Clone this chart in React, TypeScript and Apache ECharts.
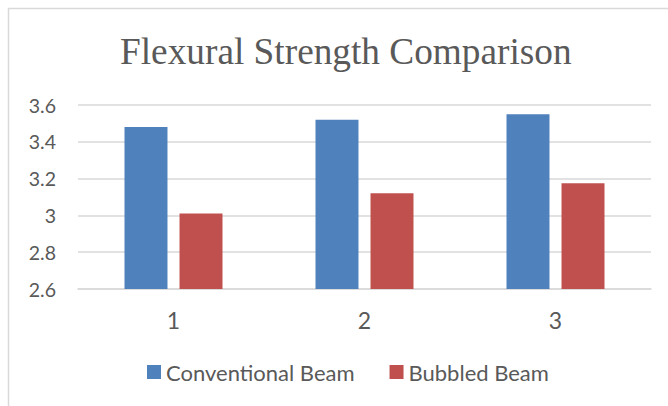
import React, { useEffect, useRef } from "react";
import * as echarts from "echarts";

const categories = ["1", "2", "3"];
const conventional = [3.48, 3.52, 3.55];
const bubbled = [3.01, 3.12, 3.175];
const seriesNames = ["Conventional Beam", "Bubbled Beam"];
const titleText = "Flexural Strength Comparison";

export default function App() {
  const ref = useRef<HTMLDivElement>(null);
  useEffect(() => {
    const chart = echarts.init(ref.current!, undefined, { renderer: "svg" });
    chart.setOption({
      animation: false,
      backgroundColor: "#ffffff",
      graphic: [
        {
          type: "rect",
          shape: { x: 8.5, y: 8.5, width: 700, height: 500 },
          style: { fill: "none", stroke: "#d9d9d9", lineWidth: 1.5 },
          silent: true,
          z: -1,
        },
      ],
      title: {
        text: titleText,
        left: 115,
        top: 28,
        textStyle: {
          fontFamily: "Liberation Serif",
          fontSize: 37.3,
          fontWeight: "normal",
          color: "#595959",
        },
      },
      legend: {
        data: seriesNames,
        bottom: 23,
        left: 147,
        padding: 0,
        itemWidth: 14,
        itemHeight: 14,
        itemGap: 35,
        icon: "rect",
        textStyle: { fontFamily: "Lato", fontSize: 22, color: "#595959" },
      },
      grid: { left: 78, right: 17, top: 105, bottom: 117, containLabel: false },
      xAxis: {
        type: "category",
        data: categories,
        axisLine: { lineStyle: { color: "#d9d9d9", width: 1.5 } },
        axisTick: { show: false },
        axisLabel: { fontFamily: "Lato", fontSize: 23, color: "#595959", margin: 19 },
      },
      yAxis: {
        type: "value",
        min: 2.6,
        max: 3.6,
        interval: 0.2,
        axisLine: { show: false },
        axisTick: { show: false },
        splitLine: { lineStyle: { color: "#d9d9d9", width: 1.5 } },
        axisLabel: {
          fontFamily: "Lato",
          fontSize: 19.5,
          color: "#595959",
          margin: 22,
          formatter: (v: number) => String(Math.round(v * 10) / 10),
        },
      },
      series: [
        {
          name: seriesNames[0],
          type: "bar",
          data: conventional,
          barWidth: "22.5%",
          barGap: "28%",
          itemStyle: { color: "#4F81BD" },
        },
        {
          name: seriesNames[1],
          type: "bar",
          data: bubbled,
          barWidth: "22.5%",
          itemStyle: { color: "#C0504D" },
        },
      ],
    });
    return () => chart.dispose();
  }, []);
  return (
    <div
      ref={ref}
      style={{ position: "fixed", left: 0, top: 0, width: 668, height: 406 }}
    />
  );
}
